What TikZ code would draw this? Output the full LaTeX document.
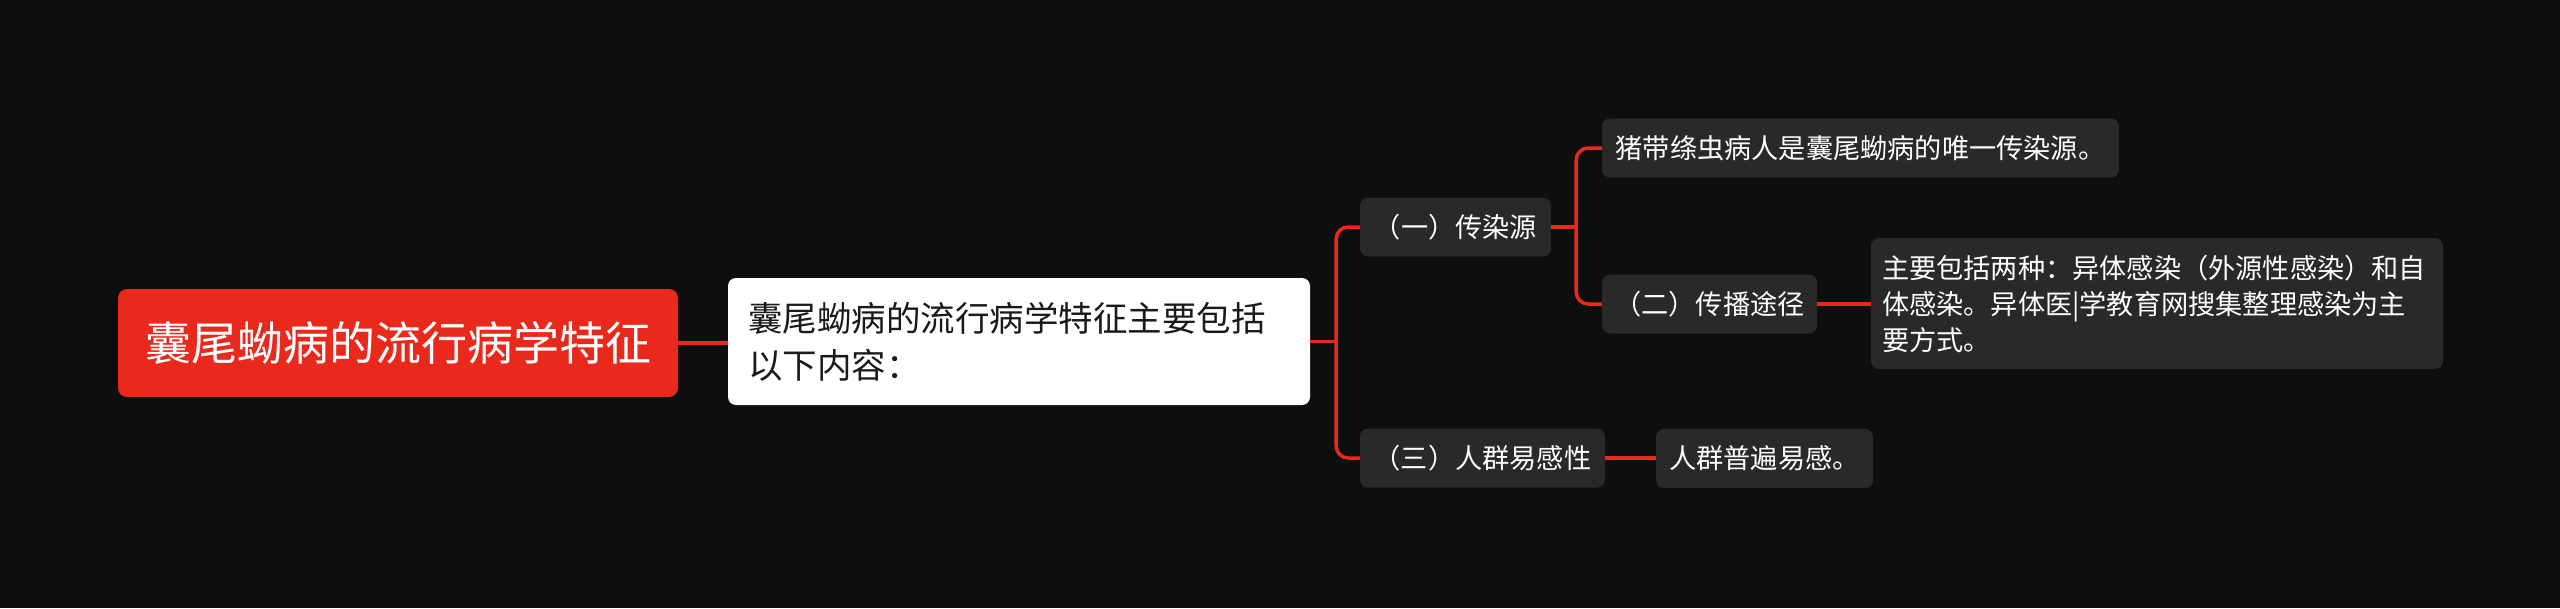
\documentclass[tikz,border=0pt]{standalone}
\usepackage{fontspec}
\newfontfamily\cjk{Noto Sans CJK SC}
\usetikzlibrary{calc}

\definecolor{pagebg}{HTML}{0E0E0E}
\definecolor{rootred}{HTML}{E8291B}
\definecolor{leafgrey}{HTML}{292929}
\definecolor{introtext}{HTML}{1A1A1A}

\begin{document}
\begin{tikzpicture}[x=1pt, y=-1pt,
    rootbox/.style={fill=rootred, rounded corners=9pt, text=white,
        font=\cjk\fontsize{46}{56}\selectfont,
        minimum width=560pt, minimum height=108pt, inner sep=0pt},
    introbox/.style={fill=white, rounded corners=8pt, text=introtext,
        font=\cjk\fontsize{34.5}{47}\selectfont, text width=542pt, align=left,
        minimum height=127pt, inner xsep=20pt, inner ysep=0pt},
    leafbox/.style={fill=leafgrey, rounded corners=8pt, text=white,
        font=\cjk\fontsize{27.2}{36}\selectfont,
        minimum height=59pt, inner sep=0pt},
    link/.style={draw=rootred, line width=3.5pt, rounded corners=12pt}
]
    % background and page size
    \fill[pagebg] (0,0) rectangle (2560,608);
    \useasboundingbox (0,0) rectangle (2560,608);

    % main topic and summary
    \node[rootbox] (root) at (398,343) {囊尾蚴病的流行病学特征};
    \node[introbox] (intro) at (1019,341.5)
        {囊尾蚴病的流行病学特征主要包括\\以下内容：};

    % first level
    \node[leafbox, minimum width=191pt] (source) at (1455.5,227) {（一）传染源};
    \node[leafbox, minimum width=245pt] (suscept) at (1482.5,458) {（三）人群易感性};

    % second level
    \node[leafbox, minimum width=517pt] (onlysrc) at (1860.5,148)
        {猪带绦虫病人是囊尾蚴病的唯一传染源。};
    \node[leafbox, minimum width=215pt] (route) at (1709.5,304) {（二）传播途径};
    \node[leafbox, minimum width=217pt] (people) at (1764.5,458.5) {人群普遍易感。};

    % third level
    \node[leafbox, text width=550pt, align=left, inner xsep=11pt,
        minimum height=131pt] (routedesc) at (2157,303.5)
        {主要包括两种：异体感染（外源性感染）和自\\体感染。异体医|学教育网搜集整理感染为主\\要方式。};

    % connectors
    \coordinate (hubA) at ($(intro.east)+(26,0)$);
    \coordinate (hubB) at ($(source.east)+(25,0)$);
    \draw[link] (root.east) -- (root.east -| intro.west);
    \draw[link] (intro.east) -- (hubA);
    \draw[link] (hubA) |- (source.west);
    \draw[link] (hubA) |- (suscept.west);
    \draw[link] (source.east) -- (hubB);
    \draw[link] (hubB) |- (onlysrc.west);
    \draw[link] (hubB) |- (route.west);
    \draw[link] (route.east) -- (route.east -| routedesc.west);
    \draw[link] (suscept.east) -- (suscept.east -| people.west);
\end{tikzpicture}
\end{document}
